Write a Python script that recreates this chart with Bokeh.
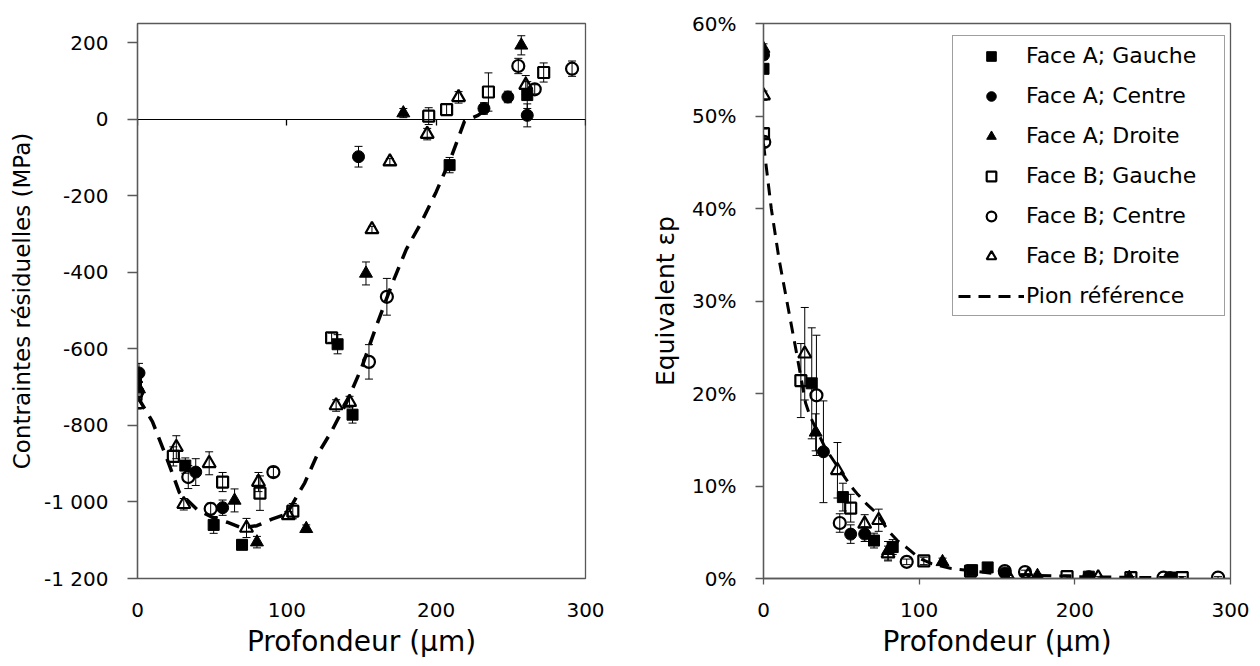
from bokeh.plotting import figure
from bokeh.models import (Range1d, LinearAxis, FixedTicker, ColumnDataSource, Whisker,
                          TeeHead, Legend, LegendItem, NumeralTickFormatter)
from bokeh.layouts import row
from bokeh.embed import file_html
from bokeh.resources import INLINE

FONT = "DejaVu Sans"

SERIES = ["Face A; Gauche", "Face A; Centre", "Face A; Droite",
          "Face B; Gauche", "Face B; Centre", "Face B; Droite"]
REF_LABEL = "Pion référence"

X_TICKS = [0, 100, 200, 300]
LEFT_Y_TICKS = [200, 0, -200, -400, -600, -800, -1000, -1200]
LEFT_Y_LABELS = ["200", "0", "-200", "-400", "-600", "-800", "-1 000", "-1 200"]
RIGHT_Y_TICKS = [0, 0.1, 0.2, 0.3, 0.4, 0.5, 0.6]

# ---------------- Left chart: residual stresses (MPa) ----------------
l_ag_x = [-1, 32, 51, 70, 134, 144, 209, 261]
l_ag_y = [-690, -905, -1060, -1112, -588, -772, -120, 63]
l_ag_e = [15, 20, 22, 12, 25, 22, 20, 35]

l_ac_x = [1, 39, 57, 148, 232, 248, 261]
l_ac_y = [-663, -922, -1015, -98, 28, 58, 10]
l_ac_e = [25, 35, 20, 27, 15, 15, 30]

l_ad_x = [1, 65, 80, 113, 153, 178, 257]
l_ad_y = [-705, -996, -1105, -1070, -403, 16, 193]
l_ad_e = [20, 30, 15, 10, 30, 12, 25]

l_bg_x = [-1, 24, 57, 82, 104, 130, 195, 207, 235, 272]
l_bg_y = [-720, -881, -948, -977, -1024, -571, 8, 25, 71, 122]
l_bg_e = [15, 25, 25, 45, 20, 12, 22, 15, 50, 25]

l_bc_x = [0, 34, 49, 91, 155, 167, 255, 266, 291]
l_bc_y = [-712, -935, -1018, -922, -634, -464, 139, 78, 132]
l_bc_e = [15, 30, 15, 12, 45, 48, 20, 12, 20]

l_bd_x = [0, 26, 31, 48, 73, 81, 101, 133, 142, 157, 169, 194, 215, 260]
l_bd_y = [-745, -857, -1006, -899, -1068, -948, -1035, -748, -739, -288, -111, -39, 57, 89]
l_bd_e = [12, 30, 15, 30, 25, 25, 10, 15, 15, 8, 8, 15, 15, 25]

l_ref_x = [0, 10, 20, 28, 40, 50, 60, 70, 80, 90, 100, 106, 112, 120, 130, 140, 150,
           160, 170, 180, 190, 200, 210, 219, 228, 234]
l_ref_y = [-725, -790, -890, -975, -1020, -1040, -1053, -1068, -1062, -1045, -1031, -990,
           -950, -880, -815, -740, -650, -540, -435, -340, -270, -190, -100, -5, 10, 28]

# ---------------- Right chart: equivalent plastic strain ----------------
r_ag_x = [0, 31, 51, 71, 83, 134, 144, 209, 262]
r_ag_y = [0.551, 0.211, 0.088, 0.041, 0.034, 0.009, 0.012, 0.002, 0.001]
r_ag_e = [0.005, 0.06, 0.015, 0.008, 0.008, 0.003, 0.003, 0.002, 0.001]

r_ac_x = [0, 38.5, 56, 65, 155, 209, 261]
r_ac_y = [0.566, 0.137, 0.048, 0.048, 0.006, 0.002, 0.001]
r_ac_e = [0.005, 0.055, 0.01, 0.008, 0.003, 0.002, 0.001]

r_ad_x = [0, 33.5, 80, 115, 176, 235]
r_ad_y = [0.573, 0.158, 0.03, 0.018, 0.003, 0.001]
r_ad_e = [0.005, 0.02, 0.01, 0.004, 0.002, 0.001]

r_bg_x = [0, 24, 56, 103, 133, 195, 236, 269]
r_bg_y = [0.481, 0.214, 0.076, 0.019, 0.008, 0.002, 0.001, 0.001]
r_bg_e = [0.005, 0.04, 0.015, 0.004, 0.003, 0.002, 0.001, 0.001]

r_bc_x = [0.5, 34, 49, 92, 155, 168, 257, 292]
r_bc_y = [0.472, 0.198, 0.060, 0.018, 0.008, 0.007, 0.001, 0.001]
r_bc_e = [0.005, 0.065, 0.01, 0.003, 0.002, 0.002, 0.001, 0.001]

r_bd_x = [0, 26.5, 47.5, 65, 74, 80, 157, 170, 215]
r_bd_y = [0.522, 0.243, 0.117, 0.059, 0.063, 0.027, 0.003, 0.003, 0.001]
r_bd_e = [0.005, 0.05, 0.03, 0.01, 0.012, 0.008, 0.002, 0.002, 0.001]

r_ref_x = [0, 5, 10, 15, 20, 27, 30, 40, 50, 56, 60, 66, 73, 80, 86, 93, 100, 108,
           120, 150, 200, 250, 270]
r_ref_y = [0.47, 0.40, 0.345, 0.30, 0.255, 0.19, 0.175, 0.14, 0.115, 0.10, 0.092,
           0.081, 0.070, 0.052, 0.041, 0.032, 0.022, 0.016, 0.011, 0.005, 0.002,
           0.001, 0.001]

LEFT = [(l_ag_x, l_ag_y, l_ag_e), (l_ac_x, l_ac_y, l_ac_e), (l_ad_x, l_ad_y, l_ad_e),
        (l_bg_x, l_bg_y, l_bg_e), (l_bc_x, l_bc_y, l_bc_e), (l_bd_x, l_bd_y, l_bd_e)]
RIGHT = [(r_ag_x, r_ag_y, r_ag_e), (r_ac_x, r_ac_y, r_ac_e), (r_ad_x, r_ad_y, r_ad_e),
         (r_bg_x, r_bg_y, r_bg_e), (r_bc_x, r_bc_y, r_bc_e), (r_bd_x, r_bd_y, r_bd_e)]

# marker, filled?, size
STYLES = [("square", True, 11), ("circle", True, 12), ("triangle", True, 13),
          ("square", False, 11), ("circle", False, 12), ("triangle", False, 13)]

AXIS_GREY = "#595959"


def style_common(p):
    p.toolbar_location = None
    p.xgrid.visible = False
    p.ygrid.visible = False
    p.outline_line_color = AXIS_GREY
    p.outline_line_width = 1.3
    p.background_fill_color = "white"
    p.border_fill_color = "white"
    for ax in p.axis:
        ax.major_label_text_font = FONT
        ax.major_label_text_font_size = "20px"
        ax.major_label_text_color = "black"
        ax.axis_label_text_font = FONT
        ax.axis_label_text_font_style = "normal"
        ax.axis_label_text_color = "black"
        ax.minor_tick_line_color = None
        ax.major_tick_in = 0
        ax.axis_line_color = AXIS_GREY
        ax.axis_line_width = 1.3
        ax.major_tick_line_color = AXIS_GREY
        ax.major_tick_line_width = 1.3


def add_series(p, data, lw_open):
    renderers = []
    for (xs, ys, es), (marker, filled, size) in zip(data, STYLES):
        src = ColumnDataSource(dict(x=xs, y=ys,
                                    lo=[y - e for y, e in zip(ys, es)],
                                    hi=[y + e for y, e in zip(ys, es)]))
        w = Whisker(source=src, base="x", upper="hi", lower="lo", dimension="height",
                    line_color="black", line_width=1,
                    upper_head=TeeHead(size=8, line_color="black", line_width=1),
                    lower_head=TeeHead(size=8, line_color="black", line_width=1))
        p.add_layout(w)
        r = p.scatter("x", "y", source=src, marker=marker, size=size,
                      line_color="black", line_width=(1 if filled else lw_open),
                      fill_color=("black" if filled else None))
        renderers.append(r)
    return renderers


# ---------------- Left figure ----------------
pl = figure(width=628, height=665, output_backend="svg", toolbar_location=None,
            x_range=Range1d(0, 300), y_range=Range1d(-1200, 250),
            min_border_left=137, min_border_right=43, min_border_top=23,
            min_border_bottom=87)
add_series(pl, LEFT, 2.2)
pl.line(l_ref_x, l_ref_y, line_color="black", line_width=3.5, line_dash="14 9")

zero_axis = LinearAxis(fixed_location=0, ticker=FixedTicker(ticks=X_TICKS))
pl.add_layout(zero_axis, "below")

style_common(pl)
xa = pl.xaxis[0]
xa.ticker = FixedTicker(ticks=X_TICKS)
xa.major_tick_out = 0
xa.axis_line_color = None
xa.major_label_standoff = 24
xa.axis_label = "Profondeur (µm)"
xa.axis_label_text_font_size = "28px"
xa.axis_label_standoff = 5

zero_axis.major_label_text_color = None
zero_axis.major_tick_out = 6
zero_axis.axis_line_color = "black"
zero_axis.axis_line_width = 1.2
zero_axis.major_tick_line_color = "black"
zero_axis.axis_label = None

ya = pl.yaxis[0]
ya.ticker = FixedTicker(ticks=LEFT_Y_TICKS)
ya.major_label_overrides = dict(zip(LEFT_Y_TICKS, LEFT_Y_LABELS))
ya.major_tick_out = 10
ya.major_label_standoff = 19
ya.axis_label = "Contraintes résiduelles (MPa)"
ya.axis_label_text_font_size = "23px"
ya.axis_label_standoff = 6

# ---------------- Right figure ----------------
pr = figure(width=630, height=665, output_backend="svg", toolbar_location=None,
            x_range=Range1d(0, 300), y_range=Range1d(0, 0.6),
            min_border_left=135, min_border_right=28, min_border_top=22,
            min_border_bottom=87)
rr = add_series(pr, RIGHT, 2.2)
ref_r = pr.line(r_ref_x, r_ref_y, line_color="black", line_width=3, line_dash="12 8")

style_common(pr)
xb = pr.xaxis[0]
xb.ticker = FixedTicker(ticks=X_TICKS)
xb.major_tick_out = 6
xb.major_label_standoff = 18
xb.axis_label = "Profondeur (µm)"
xb.axis_label_text_font_size = "28px"
xb.axis_label_standoff = 5

yb = pr.yaxis[0]
yb.ticker = FixedTicker(ticks=RIGHT_Y_TICKS)
yb.formatter = NumeralTickFormatter(format="0%")
yb.major_tick_out = 8
yb.major_label_standoff = 19
yb.axis_label = "Equivalent εp"
yb.axis_label_text_font_size = "25px"
yb.axis_label_standoff = 9

items = [LegendItem(label=lab, renderers=[r]) for lab, r in zip(SERIES, rr)]
items.append(LegendItem(label=REF_LABEL, renderers=[ref_r]))
leg = Legend(items=items, location=(189, 262), padding=5, spacing=11,
             glyph_width=66, glyph_height=24, label_height=29, label_width=193,
             label_standoff=2, label_text_font=FONT, label_text_font_size="22px",
             label_text_color="black", border_line_color="#404040",
             border_line_width=1, background_fill_color="white",
             background_fill_alpha=1.0, margin=0)
pr.add_layout(leg)

layout = row(pl, pr)
open("out.html", "w").write(file_html(layout, INLINE))
